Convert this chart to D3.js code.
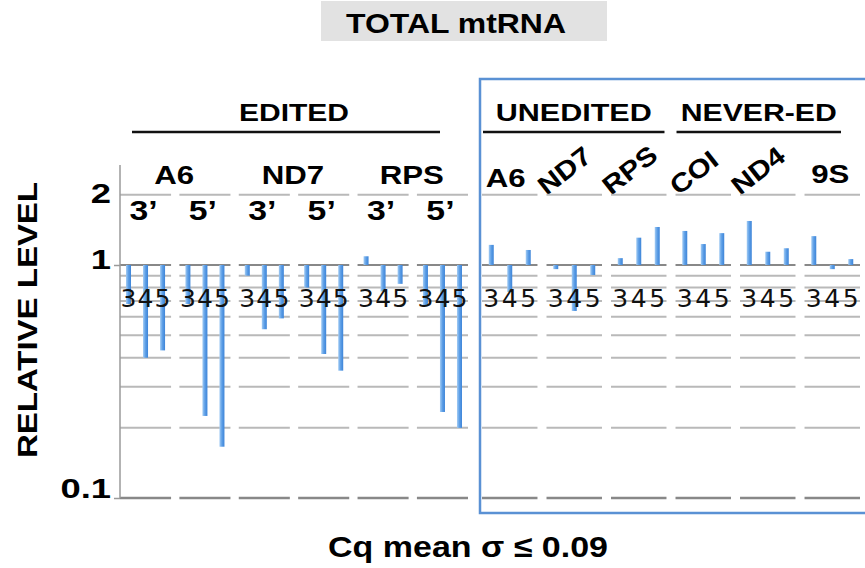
<!DOCTYPE html>
<html><head><meta charset="utf-8">
<script src="https://cdn.jsdelivr.net/npm/d3@7"></script>
<style>
html,body{margin:0;padding:0;background:#fff;}
svg{display:block;}
.b{font-family:"Liberation Sans",Arial,sans-serif;font-weight:bold;fill:#000;}
.d{font-family:"DejaVu Sans",sans-serif;fill:#111;}
</style></head>
<body>
<script>
// ---- data ----
const title = "TOTAL mtRNA";
const xTitle = "Cq mean \u03c3 \u2264 0.09";
const yTitle = "RELATIVE LEVEL";
const groupHeadings = ["EDITED", "UNEDITED", "NEVER-ED"];
const editedGenes = ["A6", "ND7", "RPS"];
const editedEnds = ["3\u2019", "5\u2019", "3\u2019", "5\u2019", "3\u2019", "5\u2019"];
const otherLabels = ["A6", "ND7", "RPS", "COI", "ND4", "9S"];
const otherRotated = [false, true, true, true, true, false];
const leftPanels = ["A6-3", "A6-5", "ND7-3", "ND7-5", "RPS-3", "RPS-5"];
const rightPanels = ["uA6", "uND7", "uRPS", "COI", "ND4", "9S"];
const cycles = ["3", "4", "5"];
const values = [
  [0.68, 0.40, 0.43],
  [0.68, 0.225, 0.166],
  [0.90, 0.53, 0.59],
  [0.80, 0.415, 0.352],
  [1.09, 0.77, 0.83],
  [0.67, 0.234, 0.20],
  [1.22, 0.766, 1.16],
  [0.96, 0.635, 0.906],
  [1.07, 1.31, 1.456],
  [1.40, 1.23, 1.37],
  [1.545, 1.14, 1.18],
  [1.33, 0.96, 1.06]
];
const gridValues = [2, 1, 0.9, 0.8, 0.7, 0.6, 0.5, 0.4, 0.3, 0.2, 0.1];
const yTickValues = [2, 1, 0.1];
const yTickLabels = ["2", "1", "0.1"];

// ---- layout ----
const W = 865, H = 568;
const svg = d3.select("body").append("svg").attr("width", W).attr("height", H);

function stretch(sel, k) {
  sel.each(function () {
    const w = this.getComputedTextLength();
    d3.select(this).attr("textLength", w * k).attr("lengthAdjust", "spacingAndGlyphs");
  });
  return sel;
}

const y = d3.scaleLog().domain([0.1, 1]).range([498, 265]);
const xl = d3.scaleBand().domain(leftPanels).range([120, 468]).paddingInner(0.14);
const xr = d3.scaleBand().domain(rightPanels).range([482, 860]).paddingInner(0.14);
const allPanels = leftPanels.concat(rightPanels);
const px = id => leftPanels.includes(id) ? xl(id) : xr(id);
const pw = id => leftPanels.includes(id) ? xl.bandwidth() : xr.bandwidth();
const xb = d3.scalePoint().domain(cycles).padding(0.5);

// gradient
const defs = svg.append("defs");
const g = defs.append("linearGradient").attr("id", "barg").attr("x1", "0").attr("x2", "1").attr("y1", "0").attr("y2", "0");
g.append("stop").attr("offset", "0%").attr("stop-color", "#a3ccf4");
g.append("stop").attr("offset", "50%").attr("stop-color", "#5c9ee6");
g.append("stop").attr("offset", "100%").attr("stop-color", "#3d84d8");

// title
svg.append("rect").attr("x", 321).attr("y", 1).attr("width", 286).attr("height", 40).attr("fill", "#e2e2e2");
svg.append("text").attr("class", "b").attr("x", 456).attr("y", 33).attr("text-anchor", "middle")
  .attr("font-size", 28).attr("textLength", 220).attr("lengthAdjust", "spacingAndGlyphs").text(title);

// blue box
svg.append("rect").attr("x", 480).attr("y", 79).attr("width", 400).attr("height", 434)
  .attr("fill", "none").attr("stroke", "#5a91d4").attr("stroke-width", 2.5);

// group headings + underlines
const headSpans = [
  [xl(leftPanels[0]) + 12, xl(leftPanels[5]) + xl.bandwidth() - 28],
  [xr(rightPanels[0]) + 1, xr(rightPanels[2]) + xr.bandwidth() - 2],
  [xr(rightPanels[3]) + 1, xr(rightPanels[5]) + xr.bandwidth() - 19]
];
const headLen = [110, 156, 156];
groupHeadings.forEach((h, i) => {
  const [a, b] = headSpans[i];
  svg.append("text").attr("class", "b").attr("x", (a + b) / 2 + (i === 0 ? 8 : 0)).attr("y", 121)
    .attr("text-anchor", "middle").attr("font-size", 24)
    .attr("textLength", headLen[i]).attr("lengthAdjust", "spacingAndGlyphs").text(h);
  svg.append("line").attr("x1", a).attr("x2", b).attr("y1", 132).attr("y2", 132)
    .attr("stroke", "#111").attr("stroke-width", 2.5);
});

// edited gene labels
editedGenes.forEach((gname, i) => {
  const a = xl(leftPanels[2 * i]), b = xl(leftPanels[2 * i + 1]) + xl.bandwidth();
  stretch(svg.append("text").attr("class", "b").attr("x", (a + b) / 2 - 1).attr("y", 184)
    .attr("text-anchor", "middle").attr("font-size", 26).text(gname), 1.2);
});
editedEnds.forEach((e, i) => {
  const id = leftPanels[i];
  stretch(svg.append("text").attr("class", "b").attr("x", xl(id) + xl.bandwidth() / 2 - 2).attr("y", 220)
    .attr("text-anchor", "middle").attr("font-size", 27).text(e), 1.25);
});
// unedited / never-edited labels
otherLabels.forEach((t, i) => {
  const id = rightPanels[i];
  if (otherRotated[i]) {
    const x0 = xr(id) + (i === 3 ? 3 : 0), y0 = 196;
    stretch(svg.append("text").attr("class", "b").attr("font-size", 26)
      .attr("transform", `translate(${x0},${y0}) rotate(-38)`).text(t), 1.15);
  } else {
    stretch(svg.append("text").attr("class", "b").attr("x", xr(id) + xr.bandwidth() / 2 - (i === 0 ? 4 : 2))
      .attr("y", i === 0 ? 187 : 183).attr("text-anchor", "middle").attr("font-size", 26).text(t), 1.2);
  }
});

// gridlines
allPanels.forEach(id => {
  svg.append("g").selectAll("line").data(gridValues).join("line")
    .attr("x1", px(id)).attr("x2", px(id) + pw(id))
    .attr("y1", d => y(d)).attr("y2", d => y(d))
    .attr("stroke", d => (d === 1 || d === 0.1) ? "#888" : "#b9b9b9")
    .attr("stroke-width", d => d === 0.1 ? 2.5 : 2);
});

// bars
allPanels.forEach((id, pi) => {
  xb.range([px(id), px(id) + pw(id)]);
  const vals = values[pi];
  svg.append("g").selectAll("rect").data(cycles).join("rect")
    .attr("x", (c) => xb(c) - 2.5)
    .attr("width", 5)
    .attr("y", (c, i) => Math.min(y(1), y(vals[i])))
    .attr("height", (c, i) => Math.abs(y(vals[i]) - y(1)))
    .attr("fill", "url(#barg)");
  svg.append("g").selectAll("text").data(cycles).join("text")
    .attr("class", "d").attr("x", c => xb(c)).attr("y", 307)
    .attr("text-anchor", "middle").attr("font-size", 25).text(c => c);
});

// y axis
svg.append("line").attr("x1", 120).attr("x2", 120).attr("y1", 165).attr("y2", y(0.1))
  .attr("stroke", "#9a9a9a").attr("stroke-width", 1.5);
const ax = svg.append("g").attr("transform", "translate(120,0)")
  .call(d3.axisLeft(y).tickValues(yTickValues).tickFormat((d, i) => yTickLabels[i]).tickSize(6).tickPadding(3));
ax.select(".domain").remove();
ax.selectAll(".tick line").attr("stroke", "#9a9a9a").attr("stroke-width", 1.5)
  .attr("x2", d => d === 2 ? 0 : -6);
ax.selectAll(".tick text").attr("class", "b").attr("font-size", 28)
  .attr("dy", "0em").attr("y", d => d === 2 ? 8 : (d === 1 ? 3 : -1));
stretch(ax.selectAll(".tick text"), 1.3);

svg.append("text").attr("class", "b").attr("font-size", 28)
  .attr("transform", "translate(37,320) rotate(-90)").attr("text-anchor", "middle")
  .attr("textLength", 276).attr("lengthAdjust", "spacingAndGlyphs").text(yTitle);

svg.append("text").attr("class", "b").attr("x", 468).attr("y", 557).attr("text-anchor", "middle")
  .attr("font-size", 30).attr("textLength", 280).attr("lengthAdjust", "spacingAndGlyphs").text(xTitle);
</script>
</body></html>
